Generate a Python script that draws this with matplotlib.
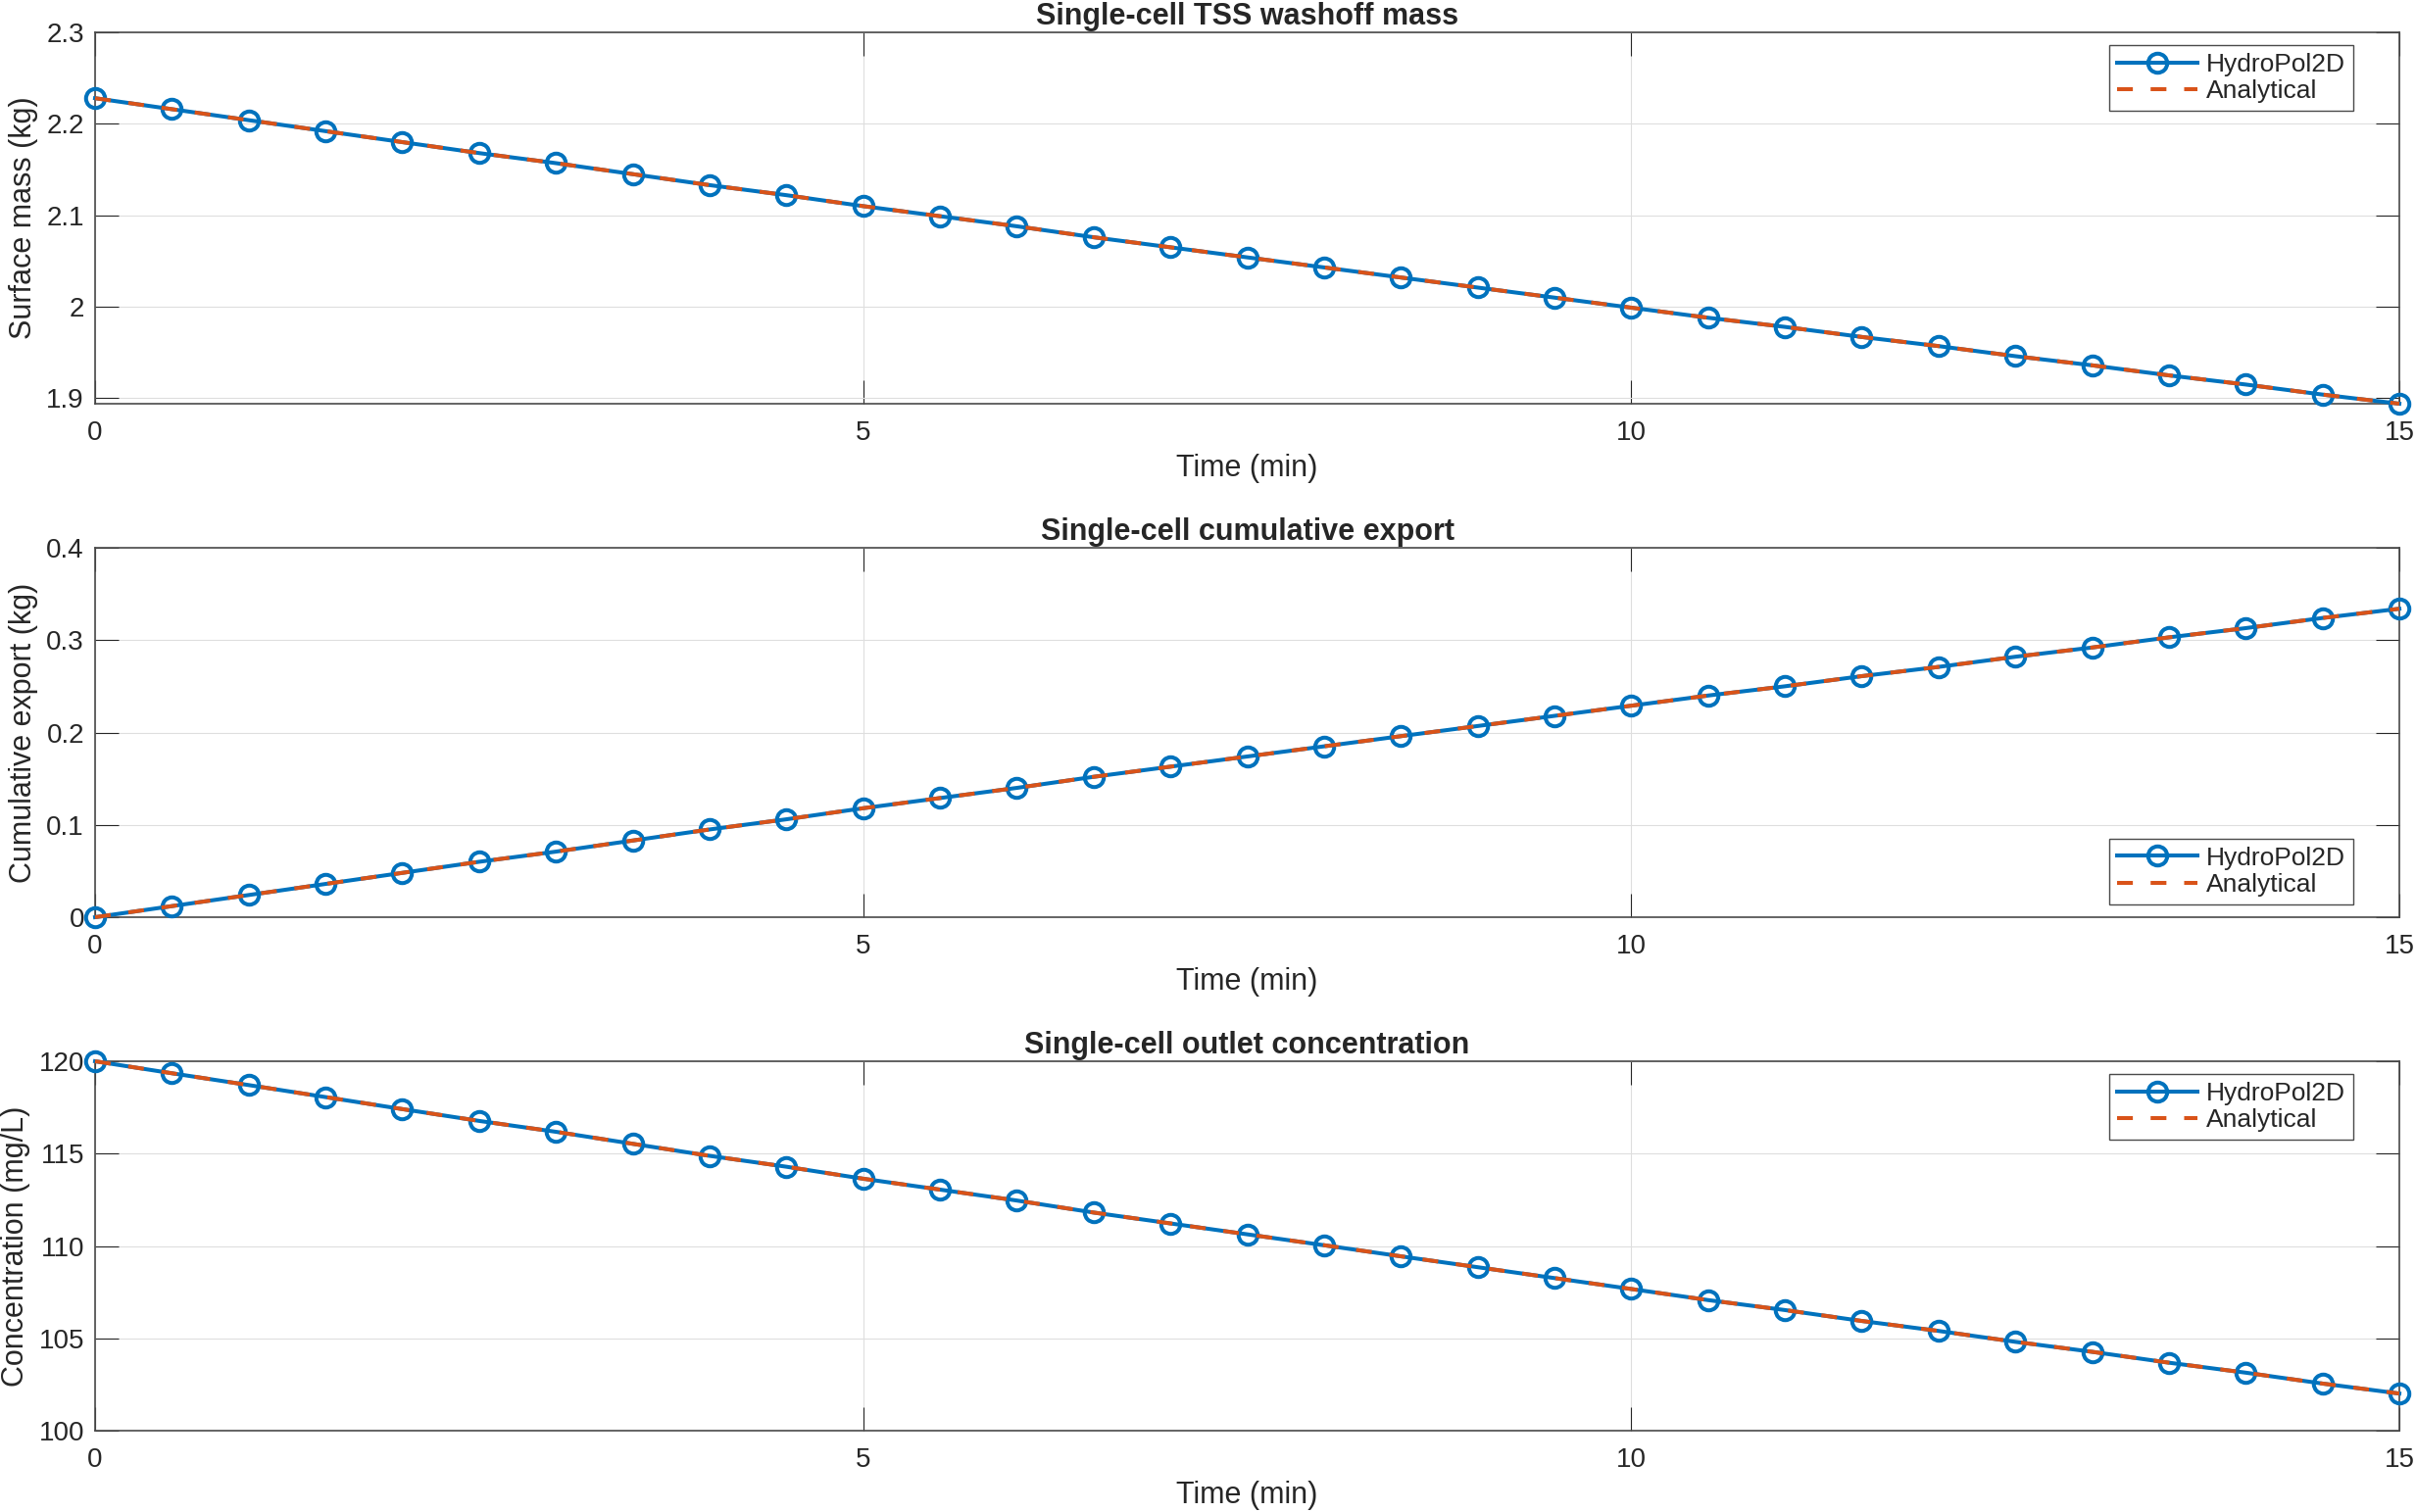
import matplotlib

matplotlib.use("Agg")
import matplotlib.pyplot as plt

# time axis (min), sampled every 0.5 min
time_min = [0.0, 0.5, 1.0, 1.5, 2.0, 2.5, 3.0, 3.5, 4.0, 4.5, 5.0, 5.5, 6.0, 6.5,
            7.0, 7.5, 8.0, 8.5, 9.0, 9.5, 10.0, 10.5, 11.0, 11.5, 12.0, 12.5,
            13.0, 13.5, 14.0, 14.5, 15.0]

# surface mass (kg)
mass_kg = [2.228, 2.216, 2.204, 2.192, 2.180, 2.168, 2.157, 2.145, 2.133, 2.122,
           2.110, 2.099, 2.088, 2.076, 2.065, 2.054, 2.043, 2.032, 2.021, 2.010,
           1.999, 1.988, 1.978, 1.967, 1.957, 1.946, 1.936, 1.925, 1.915, 1.904,
           1.894]

# cumulative export (kg)
export_kg = [0.000, 0.012, 0.024, 0.036, 0.048, 0.060, 0.071, 0.083, 0.095, 0.106,
             0.118, 0.129, 0.140, 0.152, 0.163, 0.174, 0.185, 0.196, 0.207, 0.218,
             0.229, 0.240, 0.250, 0.261, 0.271, 0.282, 0.292, 0.303, 0.313, 0.324,
             0.334]

# outlet concentration (mg/L)
conc_mgL = [120.00, 119.35, 118.71, 118.06, 117.41, 116.77, 116.18, 115.53, 114.88,
            114.29, 113.64, 113.05, 112.46, 111.81, 111.22, 110.63, 110.04, 109.44,
            108.85, 108.26, 107.67, 107.07, 106.53, 105.94, 105.40, 104.81, 104.27,
            103.68, 103.14, 102.55, 102.01]

x_ticks = [0, 5, 10, 15]
series_names = ["HydroPol2D", "Analytical"]

BLUE = "#0072BD"
ORANGE = "#D95319"
AX_COL = "#4a4a4a"
TXT = "#262626"

plt.rcParams["font.family"] = ["Liberation Sans", "DejaVu Sans"]
plt.rcParams["text.color"] = TXT

panels = [
    {
        "y": mass_kg,
        "title": "Single-cell TSS washoff mass",
        "ylabel": "Surface mass (kg)",
        "ylim": (mass_kg[-1], 2.3),
        "yticks": [1.9, 2.0, 2.1, 2.2, 2.3],
        "yticklabels": ["1.9", "2", "2.1", "2.2", "2.3"],
        "legend": "upper",
    },
    {
        "y": export_kg,
        "title": "Single-cell cumulative export",
        "ylabel": "Cumulative export (kg)",
        "ylim": (0, 0.4),
        "yticks": [0, 0.1, 0.2, 0.3, 0.4],
        "yticklabels": ["0", "0.1", "0.2", "0.3", "0.4"],
        "legend": "lower",
    },
    {
        "y": conc_mgL,
        "title": "Single-cell outlet concentration",
        "ylabel": "Concentration (mg/L)",
        "ylim": (100, 120),
        "yticks": [100, 105, 110, 115, 120],
        "yticklabels": ["100", "105", "110", "115", "120"],
        "legend": "upper",
    },
]

W, H = 2465, 1543
fig = plt.figure(figsize=(W / 100, H / 100), dpi=100)

# axes boxes in pixels: (top, bottom)
boxes = [(33, 412), (559, 936), (1083, 1460)]
left_px, right_px = 97, 2448

for p, (top, bot) in zip(panels, boxes):
    ax = fig.add_axes([left_px / W, 1 - bot / H, (right_px - left_px) / W, (bot - top) / H])
    ax.plot(time_min, p["y"], "-o", color=BLUE, lw=2.9, ms=14, mew=2.9,
            mfc="none", label=series_names[0], zorder=3, clip_on=False)
    ax.plot(time_min, p["y"], "--", color=ORANGE, lw=2.9, dashes=(4, 4.5),
            label=series_names[1], zorder=4, clip_on=False)

    ax.set_xlim(0, 15)
    ax.set_ylim(*p["ylim"])
    ax.set_xticks(x_ticks)
    ax.set_xticklabels([str(v) for v in x_ticks])
    ax.set_yticks(p["yticks"])
    ax.set_yticklabels(p["yticklabels"])

    ax.grid(True, color="#dedede", lw=0.8)
    ax.set_axisbelow(True)
    for s in ax.spines.values():
        s.set_color(AX_COL)
        s.set_linewidth(1.2)
    ax.tick_params(axis="both", direction="in", length=17.5, width=0.8,
                   color=TXT, labelcolor=TXT, labelsize=20,
                   top=True, right=True)
    ax.tick_params(axis="x", pad=12)
    ax.tick_params(axis="y", pad=8)

    ax.set_title(p["title"], fontsize=22, fontweight="bold", pad=6, color=TXT)
    ax.set_xlabel("Time (min)", fontsize=22, labelpad=6, color=TXT)
    ax.set_ylabel(p["ylabel"], fontsize=22, labelpad=6, color=TXT)

    if p["legend"] == "upper":
        loc, anchor = "upper right", (0.980, 0.965)
    else:
        loc, anchor = "lower right", (0.980, 0.035)
    leg = ax.legend(loc=loc, bbox_to_anchor=anchor, borderaxespad=0,
                    fontsize=19, handlelength=3.1, handletextpad=0.35,
                    labelspacing=0.12, borderpad=0.3, fancybox=False,
                    framealpha=1, edgecolor=AX_COL)
    leg.get_frame().set_linewidth(1.0)

fig.savefig("out.png", dpi=100, facecolor="white")
